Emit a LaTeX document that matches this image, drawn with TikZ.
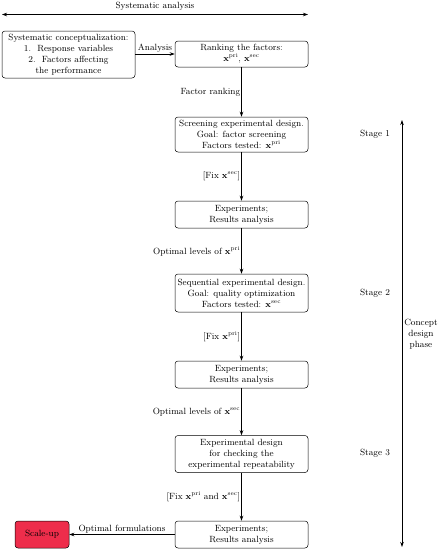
\documentclass[tikz,border=0pt]{standalone}
\usetikzlibrary{arrows.meta}
\definecolor{scalered}{HTML}{EE2D4B}
\begin{document}
\begin{tikzpicture}[x=1pt,y=-1pt,
  font=\fontsize{9}{11}\selectfont,
  box/.style={draw, rounded corners=3pt, align=center, minimum width=133pt, inner sep=1pt, line width=0.5pt},
  lbl/.style={inner sep=1pt},
  arr/.style={-{Stealth[length=5pt,width=3.5pt]}, line width=0.7pt},
  darr/.style={{Stealth[length=5pt,width=3.5pt]}-{Stealth[length=5pt,width=3.5pt]}, line width=0.7pt}]
\useasboundingbox (0,0) rectangle (441,550);
% top arrow
\coordinate (tl) at (2,14.5);
\coordinate (tr) at (308,14.5);
\draw[darr] (tl) -- (tr);
\node[lbl] (sa) at (155,6) {Systematic analysis};
% nodes
\node[box, minimum width=133pt, minimum height=47pt] (conc) at (68.5,54.5) {Systematic conceptualization:\\ 1.\ \ Response variables\\ 2.\ \ Factors affecting\\ the performance};
\node[box, minimum height=26pt] (rank) at (241.5,54) {Ranking the factors:\\ $\mathbf{x}^{\mathrm{pri}}$, $\mathbf{x}^{\mathrm{sec}}$};
\node[box, minimum height=35pt] (scr) at (241.5,134.5) {Screening experimental design.\\ Goal: factor screening\\ Factors tested: $\mathbf{x}^{\mathrm{pri}}$};
\node[box, minimum height=27pt] (exp1) at (241.5,214.5) {Experiments;\\ Results analysis};
\node[box, minimum height=38pt] (seq) at (241.5,293) {Sequential experimental design.\\ Goal: quality optimization\\ Factors tested: $\mathbf{x}^{\mathrm{sec}}$};
\node[box, minimum height=27pt] (exp2) at (241.5,374.5) {Experiments;\\ Results analysis};
\node[box, minimum height=37pt] (rep) at (241.5,454) {Experimental design\\ for checking the\\ experimental repeatability};
\node[box, minimum height=27pt] (exp3) at (241.5,534.5) {Experiments;\\ Results analysis};
\node[box, fill=scalered, minimum width=54pt, minimum height=27pt] (sup) at (42,534.5) {Scale-up};
% connectors
\draw[arr] (conc.east |- rank) -- node[lbl, above] {Analysis} (rank.west);
\draw[arr] (rank) -- node[lbl, left, pos=0.5] {Factor ranking} (scr);
\draw[arr] (scr) -- node[lbl, left] {[Fix $\mathbf{x}^{\mathrm{sec}}$]} (exp1);
\draw[arr] (exp1) -- node[lbl, left] {Optimal levels of $\mathbf{x}^{\mathrm{pri}}$} (seq);
\draw[arr] (seq) -- node[lbl, left] {[Fix $\mathbf{x}^{\mathrm{pri}}$]} (exp2);
\draw[arr] (exp2) -- node[lbl, left] {Optimal levels of $\mathbf{x}^{\mathrm{sec}}$} (rep);
\draw[arr] (rep) -- node[lbl, left] {[Fix $\mathbf{x}^{\mathrm{pri}}$ and $\mathbf{x}^{\mathrm{sec}}$]} (exp3);
\draw[arr] (exp3) -- node[lbl, above] {Optimal formulations} (sup);
% right side
\coordinate (rt) at (402,120);
\coordinate (rb) at (402,547);
\draw[darr] (rb) -- (rt);
\node[lbl] (s1) at (375,134) {Stage 1};
\node[lbl] (s2) at (375,293) {Stage 2};
\node[lbl] (s3) at (375,453) {Stage 3};
\node[lbl, align=center] (cdp) at (421,334) {Concept\\ design\\ phase};
\end{tikzpicture}
\end{document}
